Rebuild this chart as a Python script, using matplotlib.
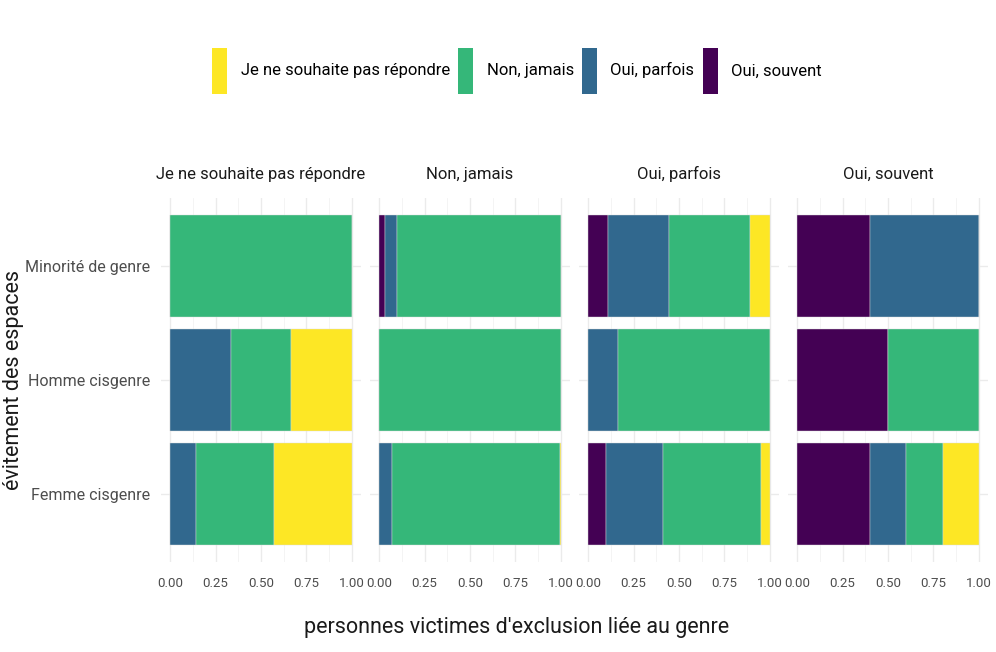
import matplotlib
matplotlib.use('Agg')
import matplotlib.pyplot as plt
from matplotlib.patches import Patch
import numpy as np

plt.rcParams['font.family'] = ['Roboto', 'Liberation Sans', 'DejaVu Sans']

genres = ['Femme cisgenre', 'Homme cisgenre', 'Minorité de genre']
facets = ['Je ne souhaite pas répondre', 'Non, jamais', 'Oui, parfois', 'Oui, souvent']
reponses = ['Oui, souvent', 'Oui, parfois', 'Non, jamais', 'Je ne souhaite pas répondre']
colors = ['#440154', '#31688E', '#35B779', '#FDE725']

# one row per facet, values for [Femme, Homme, Minorité]
oui_souvent = [[0.00, 0.00, 0.00],
               [0.00, 0.00, 0.035],
               [0.10, 0.00, 0.112],
               [0.40, 0.50, 0.40]]
oui_parfois = [[0.143, 0.333, 0.00],
               [0.072, 0.00, 0.062],
               [0.31, 0.167, 0.333],
               [0.20, 0.00, 0.60]]
non_jamais = [[0.428, 0.333, 1.00],
              [0.923, 1.00, 0.903],
              [0.54, 0.833, 0.444],
              [0.20, 0.50, 0.00]]
ne_souhaite_pas = [[0.429, 0.334, 0.00],
                   [0.005, 0.00, 0.00],
                   [0.05, 0.00, 0.111],
                   [0.20, 0.00, 0.00]]
series = [oui_souvent, oui_parfois, non_jamais, ne_souhaite_pas]

W, H = 996, 652
fig = plt.figure(figsize=(W / 100, H / 100), dpi=100)

lefts = [161, 370, 579, 788]
pw = 200
top, bottom = 198, 562
y = np.arange(len(genres))

for i, facet in enumerate(facets):
    ax = fig.add_axes([lefts[i] / W, 1 - bottom / H, pw / W, (bottom - top) / H])
    left = np.zeros(len(genres))
    for s, vals in enumerate(series):
        v = np.array(vals[i])
        ax.barh(y, v, left=left, height=0.9, color=colors[s],
                edgecolor='#dddddd', linewidth=0.3)
        left += v
    ax.set_xlim(-0.05, 1.05)
    ax.set_ylim(-0.6, 2.6)
    ax.set_xticks([0, 0.25, 0.5, 0.75, 1.0])
    ax.set_xticklabels(['0.00', '0.25', '0.50', '0.75', '1.00'])
    ax.set_xticks([0.125, 0.375, 0.625, 0.875], minor=True)
    ax.set_yticks(y)
    if i == 0:
        ax.set_yticklabels(genres)
    else:
        ax.set_yticklabels([])
    ax.grid(True, which='major', color='#ebebeb', linewidth=1.0)
    ax.grid(True, which='minor', axis='x', color='#f3f3f3', linewidth=0.6)
    ax.set_axisbelow(True)
    for sp in ax.spines.values():
        sp.set_visible(False)
    ax.tick_params(which='both', length=0, labelsize=11.5, labelcolor='#4d4d4d')
    ax.tick_params(axis='x', labelsize=9.5, pad=11)
    ax.tick_params(axis='y', pad=8)
    ax.set_title(facet, fontsize=12, color='#1a1a1a', pad=14)

fig.text(517 / W, 1 - 628 / H, "personnes victimes d'exclusion liée au genre",
         ha='center', va='center', fontsize=15.5, color='#1a1a1a')
fig.text(14 / W, 1 - 380 / H, 'évitement des espaces', rotation=90,
         ha='center', va='center', fontsize=15.5, color='#1a1a1a')

handles = [Patch(facecolor=colors[k], edgecolor='none') for k in [3, 2, 1, 0]]
labels = [reponses[k] for k in [3, 2, 1, 0]]
fig.legend(handles, labels, loc='center', bbox_to_anchor=(517 / W, 1 - 71 / H),
           ncol=4, frameon=False, fontsize=12, handlelength=0.9, handleheight=3.9,
           handletextpad=0.8, columnspacing=0.5)

fig.savefig('out.png', dpi=100)
